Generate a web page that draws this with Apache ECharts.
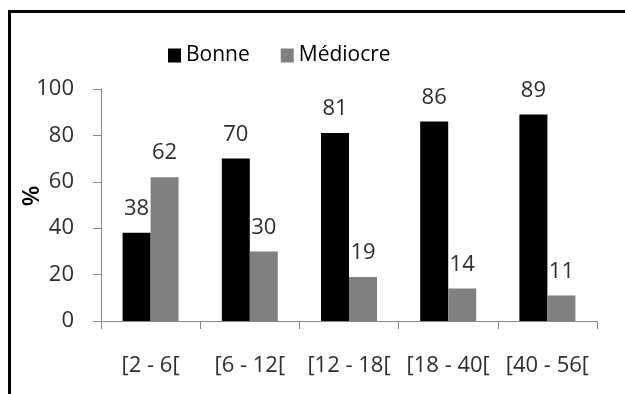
<!DOCTYPE html>
<html>
<head>
<meta charset="utf-8">
<script src="https://cdn.jsdelivr.net/npm/echarts@6/dist/echarts.min.js"></script>
<style>
  html, body { margin: 0; padding: 0; background: #fff; }
  #chart { width: 625px; height: 394px; }
</style>
</head>
<body>
<div id="chart"></div>
<script>
// Age classes (years) and share of each quality level, in %
var categories = ['[2 - 6[', '[6 - 12[', '[12 - 18[', '[18 - 40[', '[40 - 56['];
var bonne = [38, 70, 81, 86, 89];
var mediocre = [62, 30, 19, 14, 11];
var yTicks = [0, 20, 40, 60, 80, 100];

var FONT = '"Open Sans", "Liberation Sans", sans-serif';
var TEXT = '#2e2e2e';
var AXIS = '#868686';

var chart = echarts.init(document.getElementById('chart'), null, { renderer: 'canvas' });

var labelStyle = {
  show: true,
  position: 'top',
  distance: 13,
  color: TEXT,
  fontFamily: FONT,
  fontSize: 22
};

chart.setOption({
  animation: false,
  backgroundColor: '#fff',
  graphic: [
    {
      type: 'rect',
      shape: { x: 9.5, y: 11.5, width: 1000, height: 1000 },
      style: { fill: 'none', stroke: '#000', lineWidth: 3 },
      z: 100
    },
    {
      type: 'text',
      x: 32,
      y: 196,
      rotation: Math.PI / 2,
      style: {
        text: '%',
        fontFamily: FONT,
        fontSize: 24,
        fontWeight: 600,
        fill: '#000',
        align: 'center',
        verticalAlign: 'middle'
      }
    }
  ],
  legend: {
    left: 163,
    top: 40,
    itemWidth: 13,
    itemHeight: 14,
    itemGap: 31,
    icon: 'rect',
    textStyle: { color: '#000', fontFamily: FONT, fontSize: 21, padding: [0, 0, 0, 0] },
    data: ['Bonne', 'Médiocre']
  },
  grid: { left: 101, right: 28, top: 89, bottom: 73, containLabel: false },
  xAxis: {
    type: 'category',
    data: categories,
    boundaryGap: true,
    axisLine: { lineStyle: { color: AXIS, width: 1 } },
    axisTick: { show: true, length: 8, lineStyle: { color: AXIS } },
    axisLabel: { color: TEXT, fontFamily: FONT, fontSize: 22, margin: 34, interval: 0 }
  },
  yAxis: {
    type: 'value',
    min: yTicks[0],
    max: yTicks[yTicks.length - 1],
    interval: yTicks[1] - yTicks[0],
    axisLine: { show: true, lineStyle: { color: AXIS, width: 1 } },
    axisTick: { show: true, length: 8, lineStyle: { color: AXIS } },
    splitLine: { show: false },
    axisLabel: { color: TEXT, fontFamily: FONT, fontSize: 22, margin: 27 }
  },
  series: [
    {
      name: 'Bonne',
      type: 'bar',
      data: bonne,
      barWidth: 28,
      barGap: '0%',
      itemStyle: { color: '#000000' },
      label: labelStyle
    },
    {
      name: 'Médiocre',
      type: 'bar',
      data: mediocre,
      barWidth: 28,
      barGap: '0%',
      itemStyle: { color: '#808080' },
      label: labelStyle
    }
  ]
});
</script>
</body>
</html>
